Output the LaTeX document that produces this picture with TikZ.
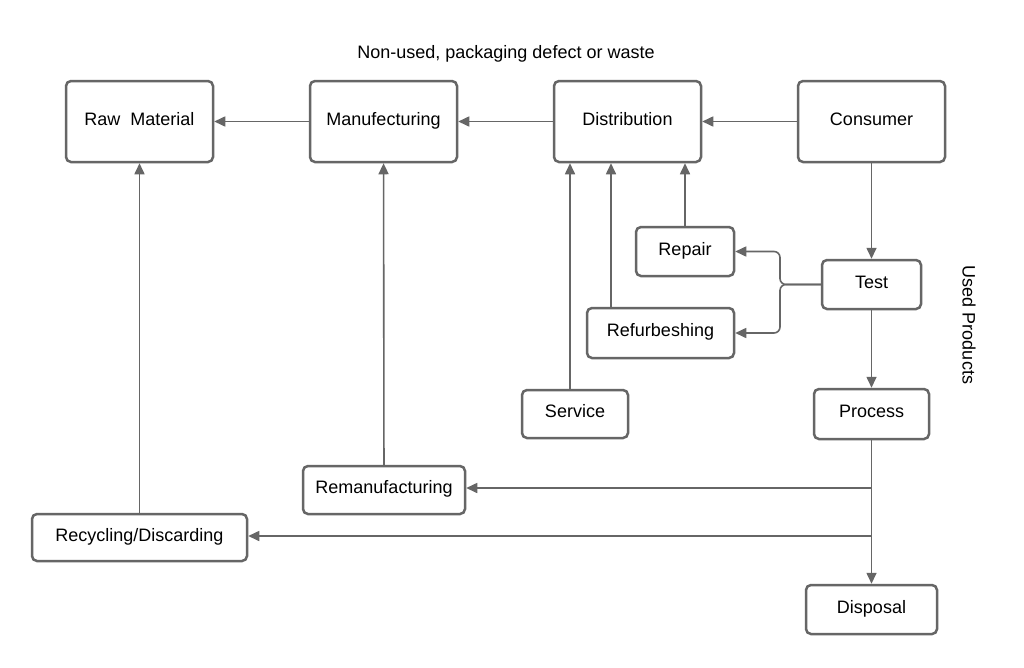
\documentclass[tikz,border=0pt]{standalone}
\usepackage{fontspec}
\setmainfont{Liberation Sans}
\usetikzlibrary{arrows.meta}
\definecolor{lc}{HTML}{666666}
\begin{document}
\begin{tikzpicture}[x=1pt,y=-1pt,
  box/.style={draw=lc,line width=2.5pt,rounded corners=5pt,fill=white,inner sep=0pt,
    font=\fontsize{18}{21}\selectfont,text=black,text height=11pt,text depth=4pt},
  conn/.style={draw=lc,line width=1.6pt,-{Triangle[length=11pt,width=10pt]}},
  lbl/.style={font=\fontsize{18}{21}\selectfont,text=black,inner sep=0pt,text height=11pt,text depth=4pt}]
\useasboundingbox[fill=white] (0,0) rectangle (1024,667);
\node[box,minimum width=147pt,minimum height=81pt] (raw) at (139.5,121.5) {Raw\ \ Material};
\node[box,minimum width=147pt,minimum height=81pt] (manu) at (383.5,121.5) {Manufecturing};
\node[box,minimum width=147pt,minimum height=81pt] (dist) at (627.5,121.5) {Distribution};
\node[box,minimum width=147pt,minimum height=81pt] (cons) at (871.5,121.5) {Consumer};
\node[box,minimum width=98pt,minimum height=49pt] (repair) at (685,251.5) {Repair};
\node[box,minimum width=99pt,minimum height=49pt] (test) at (871.5,284.5) {Test};
\node[box,minimum width=147pt,minimum height=50pt] (refurb) at (660.5,333) {Refurbeshing};
\node[box,minimum width=106pt,minimum height=48pt] (service) at (575,414) {Service};
\node[box,minimum width=115pt,minimum height=50pt] (process) at (871.5,414) {Process};
\node[box,minimum width=131pt,minimum height=49pt] (disposal) at (871.5,609.5) {Disposal};
\node[box,minimum width=162pt,minimum height=48pt] (reman) at (384,490) {Remanufacturing};
\node[box,minimum width=215pt,minimum height=47pt] (recyc) at (139.5,537.5) {Recycling/Discarding};
\node[lbl] (top) at (506,55) {Non-used, packaging defect or waste};
\node[lbl,rotate=-90] (used) at (966,325) {Used Products};
\coordinate (j1) at (871.5,488);
\coordinate (j2) at (871.5,536);
\coordinate (br) at (780,284.5);
\draw[conn] (manu) -- (raw);
\draw[conn] (dist) -- (manu);
\draw[conn] (cons) -- (dist);
\draw[conn] (cons) -- (test);
\draw[conn] (test) -- (process);
\draw[conn] (process) -- (disposal);
\draw[conn] (j1) -- (j1 -| reman.east);
\draw[conn] (j2) -- (j2 -| recyc.east);
\draw[conn] (recyc) -- (raw);
\draw[conn] (reman) -- (manu);
\draw[conn] (service.north -| 570,0) -- (dist.south -| 570,0);
\draw[conn] (refurb.north -| 611,0) -- (dist.south -| 611,0);
\draw[conn] (repair) -- (dist.south -| repair);
\draw[conn,rounded corners=6pt] (test.west) -- (br) -- (br |- repair.east) -- (repair.east);
\draw[conn,rounded corners=6pt] (test.west) -- (br) -- (br |- refurb.east) -- (refurb.east);
\end{tikzpicture}
\end{document}
